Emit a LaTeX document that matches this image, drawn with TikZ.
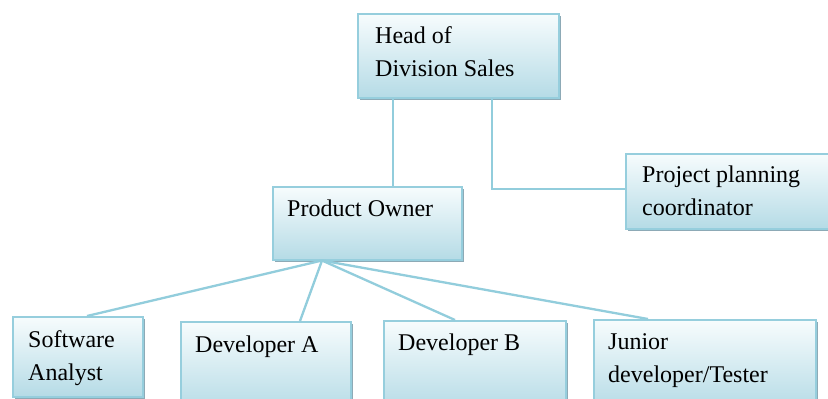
\documentclass[tikz,border=0pt]{standalone}
\usepackage{fontspec}
\setmainfont{Liberation Serif}
\usetikzlibrary{shadows}
\definecolor{boxtop}{HTML}{F7FCFD}
\definecolor{boxbot}{HTML}{B5DBE6}
\definecolor{boxline}{HTML}{96CEDD}
\definecolor{shadowc}{HTML}{8DAAB6}
\definecolor{linkc}{HTML}{92CDDC}
\tikzset{
  orgbox/.style={draw=boxline, line width=1.5pt, top color=boxtop, bottom color=boxbot,
    anchor=north west, inner sep=0pt,
    drop shadow={shadow xshift=2.5pt, shadow yshift=-2.5pt, fill=shadowc, opacity=1}},
  lbl/.style={anchor=base west, inner sep=0pt, align=left,
    font=\fontsize{24}{33}\selectfont, text=black},
  link/.style={draw=linkc, line width=2.3pt}
}
\begin{document}
\begin{tikzpicture}[x=1pt,y=-1pt]
\clip (0,0) rectangle (828,399);
\fill[white] (0,0) rectangle (828,399);
% boxes
\node[orgbox, minimum width=201, minimum height=84] (head) at (357,13) {};
\node[orgbox, minimum width=189, minimum height=73] (po) at (272,186) {};
\node[orgbox, minimum width=215, minimum height=75] (pp) at (625,153) {};
\node[orgbox, minimum width=130, minimum height=80] (sa) at (12,316) {};
\node[orgbox, minimum width=170, minimum height=90] (deva) at (180,321) {};
\node[orgbox, minimum width=182, minimum height=90] (devb) at (383,320) {};
\node[orgbox, minimum width=222, minimum height=90] (jun) at (593,319) {};
% connectors
\coordinate (pobot) at ([xshift=50pt]po.south west);
\draw[link] ([xshift=36pt]head.south west) -- ([xshift=36pt]head.south west |- po.north);
\draw[link] ([xshift=135pt]head.south west) |- ([yshift=-36pt]pp.north west);
\draw[link] (pobot) -- ([xshift=75pt]sa.north west);
\draw[link] (pobot) -- ([xshift=120pt]deva.north west);
\draw[link] (pobot) -- ([xshift=72pt]devb.north west);
\draw[link] (pobot) -- ([xshift=55pt]jun.north west);
% texts (base anchor of a two-line text is its last line)
\node[lbl] (headt) at ([xshift=18pt,yshift=-63pt]head.north west) {Head of\\Division Sales};
\node[lbl] (pot) at ([xshift=15pt,yshift=-30pt]po.north west) {Product Owner};
\node[lbl] (ppt) at ([xshift=17pt,yshift=-62pt]pp.north west) {Project planning\\coordinator};
\node[lbl] (sat) at ([xshift=16pt,yshift=-64pt]sa.north west) {Software\\Analyst};
\node[lbl] (devat) at ([xshift=15pt,yshift=-31pt]deva.north west) {Developer A};
\node[lbl] (devbt) at ([xshift=15pt,yshift=-30pt]devb.north west) {Developer B};
\node[lbl] (junt) at ([xshift=15pt,yshift=-63pt]jun.north west) {Junior\\developer/Tester};
\end{tikzpicture}
\end{document}
